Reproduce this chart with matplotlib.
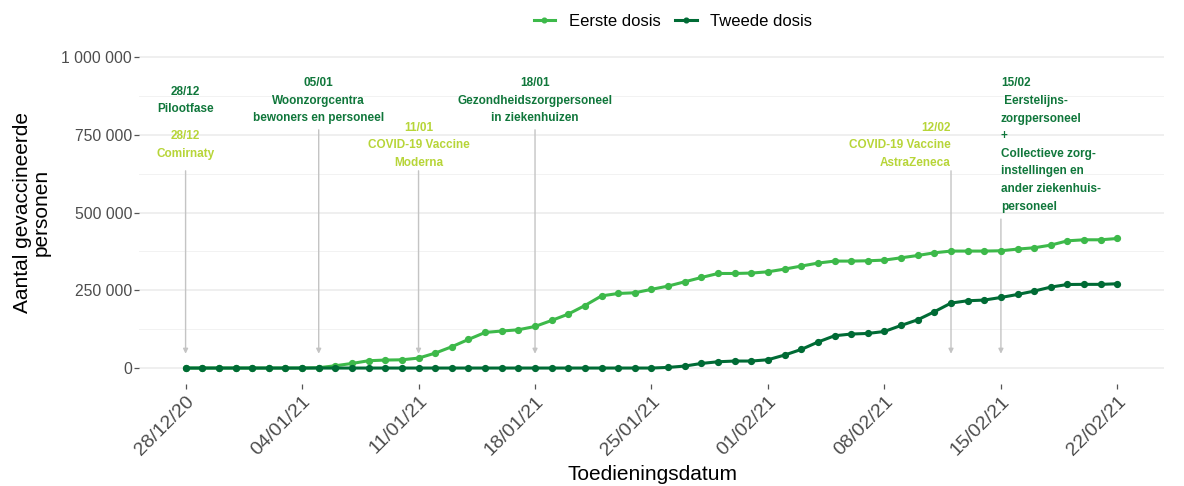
import matplotlib
matplotlib.use("Agg")
import matplotlib.pyplot as plt
import matplotlib.dates as mdates
from matplotlib.ticker import FuncFormatter, MultipleLocator
import pandas as pd
import numpy as np

plt.rcParams['font.family'] = ['Liberation Sans', 'DejaVu Sans']

# ---- data ----
dates = pd.date_range('2020-12-28', '2021-02-22', freq='D')
eerste_dosis = [0, 0, 0, 0, 0, 0, 0, 0, 1000, 7400, 14800, 23500, 25700, 26500, 32000,
                48000, 68500, 92000, 114400, 119000, 123000, 133700, 153000, 173500,
                201000, 232000, 239700, 242000, 253000, 263500, 277300, 291100, 304000,
                304000, 305300, 309400, 318100, 327800, 337400, 343800, 343800, 344800,
                347000, 354400, 361800, 370500, 376000, 376000, 376000, 377000, 382400,
                386600, 395200, 409000, 412300, 412300, 416500]
tweede_dosis = [0] * 29 + [2000, 6400, 14800, 20200, 22500, 22500, 26700, 41800, 59800,
                           83500, 103800, 109300, 111200, 117600, 136900, 155200, 181000,
                           208900, 216300, 218500, 226900, 236500, 247400, 260300, 268600,
                           269000, 269000, 270900]
series_names = ['Eerste dosis', 'Tweede dosis']
tick_dates = pd.date_range('2020-12-28', '2021-02-22', freq='7D')
y_ticks = [0, 250000, 500000, 750000, 1000000]

# annotations
ann_dates = ['2020-12-28', '2020-12-28', '2021-01-05', '2021-01-11', '2021-01-18',
             '2021-02-12', '2021-02-15']
ann_labels = ['28/12\nPilootfase',
              '28/12\nComirnaty',
              '05/01\nWoonzorgcentra\nbewoners en personeel',
              '11/01\nCOVID-19 Vaccine\nModerna',
              '18/01\nGezondheidszorgpersoneel\nin ziekenhuizen',
              '12/02\nCOVID-19 Vaccine\nAstraZeneca',
              '15/02\n Eerstelijns-\nzorgpersoneel\n+\nCollectieve zorg-\ninstellingen en\nander ziekenhuis-\npersoneel']
ann_group = ['fase', 'vaccin', 'fase', 'vaccin', 'fase', 'vaccin', 'fase']

# ---- style ----
c_eerste = '#3db94a'
c_tweede = '#006b35'
c_fase = '#10773b'
c_vaccin = '#b7d538'
ann_text_y = [860000, 717000, 859000, 716600, 859000, 716300, 717000]
ann_arrow_top = [634000, None, 765800, 634000, 765800, 634000, 478800]
ann_ha = ['center', 'center', 'center', 'center', 'center', 'right', 'left']

fig = plt.figure(figsize=(11.84, 4.86), dpi=100)
ax = fig.add_axes([0.1174, 0.2107, 0.9831 - 0.1174, 0.9148 - 0.2107])

ax.plot(dates, eerste_dosis, color=c_eerste, lw=2.2, marker='o', ms=4.2,
        label=series_names[0], zorder=3)
ax.plot(dates, tweede_dosis, color=c_tweede, lw=2.2, marker='o', ms=4.2,
        label=series_names[1], zorder=4)

for d, lab, g, ty, at, ha in zip(ann_dates, ann_labels, ann_group, ann_text_y,
                                  ann_arrow_top, ann_ha):
    x = mdates.date2num(pd.Timestamp(d))
    col = c_fase if g == 'fase' else c_vaccin
    ax.text(x, ty, lab, color=col, fontsize=8.5, fontweight='bold', ha=ha,
            va='center', multialignment=ha, linespacing=1.62, zorder=5)
    if at is not None:
        ax.annotate('', xy=(x, 46000), xytext=(x, at),
                    arrowprops=dict(arrowstyle='-|>', color='#c4c4c4', lw=1.0,
                                    mutation_scale=7, shrinkA=0, shrinkB=0),
                    zorder=2)

x0 = mdates.date2num(dates[0]) - 2.8
x1 = mdates.date2num(dates[-1]) + 2.8
ax.set_xlim(x0, x1)
ax.set_ylim(-50000, 1050000)

ax.set_yticks(y_ticks)
ax.yaxis.set_minor_locator(MultipleLocator(125000))
ax.yaxis.set_major_formatter(FuncFormatter(lambda v, p: f"{int(v):,}".replace(',', ' ')))
ax.set_xticks(mdates.date2num(tick_dates))
ax.set_xticklabels([d.strftime('%d/%m/%y') for d in tick_dates], rotation=45,
                   ha='right', va='top', rotation_mode='anchor', fontsize=14,
                   color='#4d4d4d')
ax.tick_params(axis='y', labelsize=11.3, labelcolor='#4d4d4d', length=3.5,
               width=0.9, color='#555555', pad=1.5)
ax.tick_params(axis='x', length=3.5, width=0.9, color='#555555', pad=3)
ax.tick_params(axis='y', which='minor', length=0)

ax.grid(axis='y', which='major', color='#ebebeb', lw=1.1)
ax.grid(axis='y', which='minor', color='#f2f2f2', lw=0.7)
ax.grid(axis='x', visible=False)
for s in ax.spines.values():
    s.set_visible(False)
ax.set_axisbelow(True)

fig.text(652 / 1184, 1 - 474 / 486, 'Toedieningsdatum', fontsize=15,
         ha='center', va='center')
ax.set_ylabel('Aantal gevaccineerde\npersonen', fontsize=15, labelpad=8,
              linespacing=0.95)

fig.legend(loc='center', bbox_to_anchor=(673 / 1184, 1 - 21 / 486), ncol=2,
           frameon=False, fontsize=12, handlelength=1.3, handletextpad=0.8,
           columnspacing=0.9, markerscale=0.8)

fig.savefig('out.png', dpi=100)
